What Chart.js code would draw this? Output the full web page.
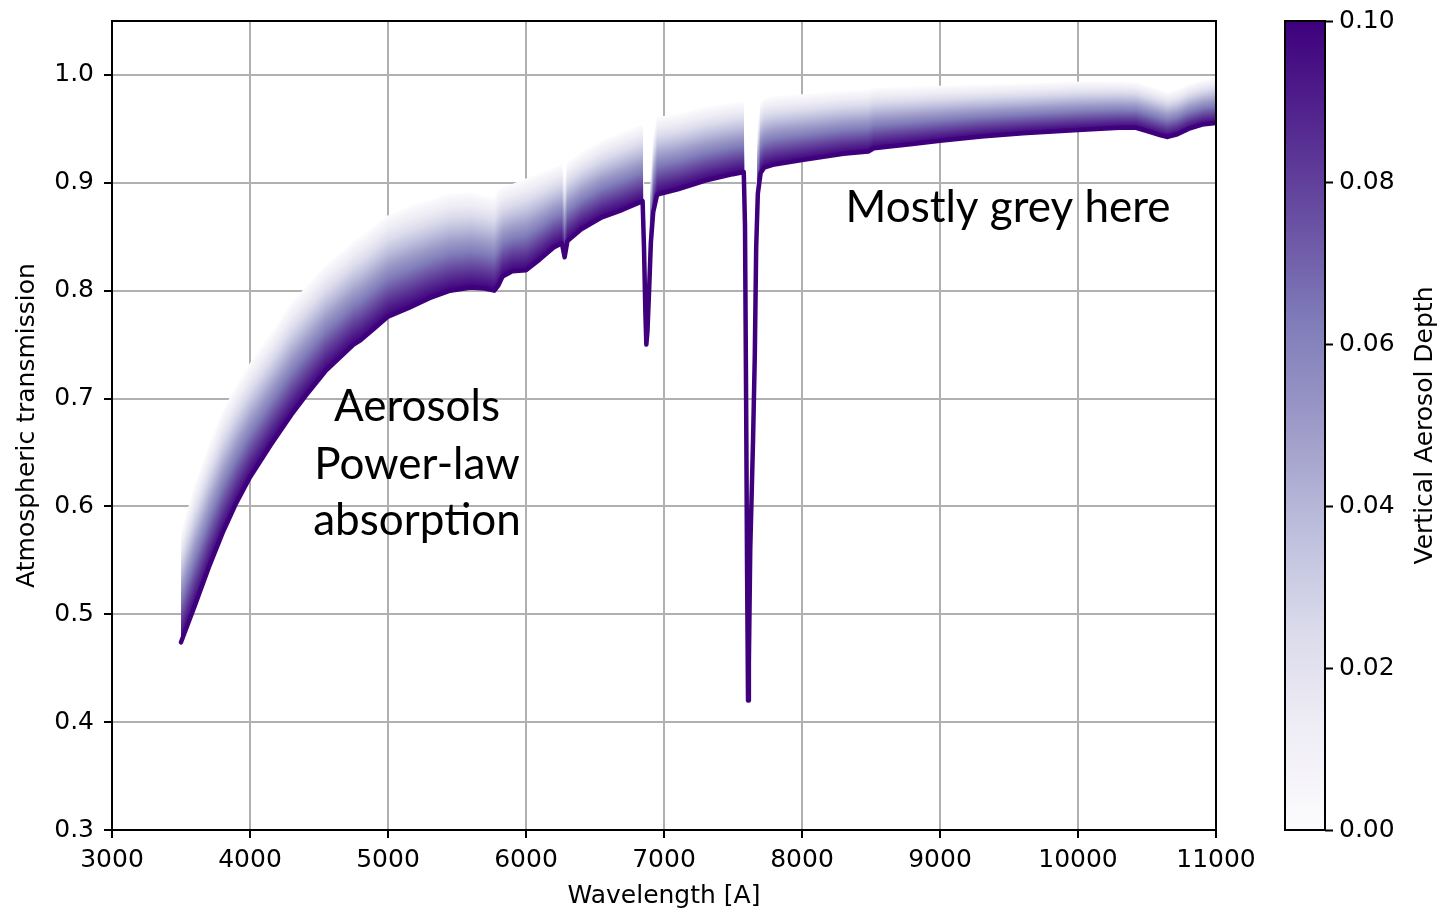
<!DOCTYPE html>
<html>
<head>
<meta charset="utf-8">
<script src="https://cdn.jsdelivr.net/npm/chart.js@4/dist/chart.umd.min.js"></script>
<style>
  body { margin: 0; background: #fff; }
  #main { position: absolute; left: 0; top: 0; }
  #cbar { position: absolute; left: 1240px; top: 0; }
</style>
</head>
<body>
<canvas id="main" width="1280" height="911"></canvas>
<canvas id="cbar" width="205" height="911"></canvas>
<script>
// wavelength grid [A]
var wavelength = [3500,3550,3600,3700,3800,3900,4000,4150,4300,4400,4550,4700,4750,4800,4900,5000,
  5150,5300,5450,5600,5700,5770,5800,5830,5900,6000,6100,6200,6260,6280,6300,6400,6550,6700,
  6845,6855,6865,6872,6880,6892,6905,6922,6950,7100,7300,7500,7578,7587,7595,7602,7609,7615,
  7625,7645,7658,7668,7680,7700,7725,7800,8000,8300,8480,8520,8800,9000,9300,9600,10000,10300,
  10420,10500,10600,10650,10720,10800,10900,11000]

// transmission for vertical aerosol depth 0.00 (upper edge of the family)
var transClear = [0.575,0.598,0.620,0.656,0.688,0.712,0.733,0.760,0.789,0.803,0.824,0.840,0.846,0.850,0.860,0.870,
  0.878,0.884,0.890,0.891,0.888,0.886,0.893,0.896,0.899,0.904,0.909,0.914,0.917,0.903,0.919,0.928,0.939,0.947,
  0.954,0.908,0.843,0.810,0.823,0.864,0.913,0.943,0.961,0.964,0.970,0.974,0.975,0.921,0.750,0.579,0.450,0.488,
  0.600,0.707,0.793,0.900,0.954,0.974,0.978,0.980,0.982,0.985,0.986,0.988,0.989,0.990,0.991,0.992,0.994,0.994,
  0.993,0.990,0.986,0.984,0.986,0.991,0.995,0.998]

// transmission for vertical aerosol depth 0.10 (lower edge of the family)
var transDusty = [0.474,0.491,0.508,0.543,0.575,0.603,0.627,0.657,0.685,0.702,0.726,0.744,0.750,0.754,0.765,0.776,
  0.784,0.793,0.800,0.803,0.802,0.800,0.805,0.813,0.818,0.819,0.829,0.840,0.844,0.831,0.846,0.857,0.868,0.875,
  0.883,0.840,0.780,0.750,0.762,0.800,0.845,0.873,0.889,0.894,0.902,0.908,0.910,0.860,0.700,0.540,0.420,0.455,
  0.560,0.660,0.740,0.840,0.890,0.909,0.914,0.917,0.921,0.927,0.929,0.932,0.936,0.939,0.943,0.946,0.949,0.951,
  0.951,0.948,0.944,0.9425,0.945,0.950,0.954,0.9555]

var aodRange = [0, 0.10]
var cbTicks = [0, 0.02, 0.04, 0.06, 0.08, 0.10]

// matplotlib "Purples"
var purples = ['#fcfbfd','#efedf5','#dadaeb','#bcbddc','#9e9ac8','#807dba','#6a51a3','#54278f','#3f007d']

Chart.defaults.font.family = 'DejaVu Sans'
Chart.defaults.font.size = 25
Chart.defaults.color = '#000'

var bandPattern = null

// shades the band between the two curves column by column, light (aod 0) to dark (aod 0.1)
var bandShade = {
  id: 'bandShade',
  afterDatasetsUpdate: function(chart){
    var top = chart.getDatasetMeta(0).data
    var bot = chart.getDatasetMeta(1).data
    var off = document.createElement('canvas')
    off.width = chart.width
    off.height = chart.height
    var g = off.getContext('2d')
    for (var i = 0; i < top.length - 1; i++) {
      var x0 = top[i].x, x1 = top[i+1].x
      for (var px = Math.floor(x0); px <= Math.ceil(x1); px++) {
        var t = x1 > x0 ? Math.min(1, Math.max(0, (px + 0.5 - x0) / (x1 - x0))) : 0
        var yt = top[i].y + (top[i+1].y - top[i].y) * t
        var yb = bot[i].y + (bot[i+1].y - bot[i].y) * t
        if (yb - yt < 0.5) yb = yt + 0.5
        var grad = g.createLinearGradient(0, yt, 0, yb)
        purples.forEach(function(c, k){ grad.addColorStop(k / (purples.length - 1), c) })
        g.fillStyle = grad
        g.fillRect(px, 0, 1, off.height)
      }
    }
    bandPattern = chart.ctx.createPattern(off, 'no-repeat')
    chart.getDatasetMeta(1).dataset.options.backgroundColor = bandPattern
  }
}

var frame = {
  id: 'frame',
  afterDraw: function(chart){
    var a = chart.chartArea, ctx = chart.ctx
    ctx.save()
    ctx.strokeStyle = '#000'
    ctx.lineWidth = 2
    ctx.strokeRect(a.left, a.top, a.right - a.left, a.bottom - a.top)
    ctx.restore()
  }
}

var notes = {
  id: 'notes',
  afterDatasetsDraw: function(chart){
    var ctx = chart.ctx, xs = chart.scales.x, ys = chart.scales.y
    var items = [
      ['Mostly grey here', 9493, 0.8637],
      ['Aerosols', 5210, 0.679],
      ['Power-law', 5210, 0.6254],
      ['absorption', 5210, 0.5735]
    ]
    ctx.save()
    ctx.font = '44px Lato'
    ctx.fillStyle = '#000'
    ctx.textAlign = 'center'
    ctx.textBaseline = 'alphabetic'
    items.forEach(function(it){
      ctx.fillText(it[0], xs.getPixelForValue(it[1]), ys.getPixelForValue(it[2]))
    })
    ctx.restore()
  }
}

var clearPts = wavelength.map(function(w, i){ return {x: w, y: transClear[i]} })
var dustyPts = wavelength.map(function(w, i){ return {x: w, y: transDusty[i]} })

var gridOpts = {color: '#b0b0b0', lineWidth: 2, tickColor: '#000', tickLength: 8, tickWidth: 2}

var chart = new Chart(document.getElementById('main'), {
  type: 'line',
  data: {
    datasets: [
      {label: 'aod 0.00', data: clearPts, borderWidth: 0, pointRadius: 0, fill: false, order: 2, clip: 0},
      {label: 'aod 0.10', data: dustyPts, borderColor: '#3f007d', borderWidth: 4.5, pointRadius: 0,
       borderJoinStyle: 'round', borderCapStyle: 'round', fill: 0, order: 1, clip: 0,
       backgroundColor: function(){ return bandPattern || 'rgba(0,0,0,0)' }}
    ]
  },
  options: {
    responsive: false,
    animation: false,
    layout: {padding: {left: 0, right: 64, top: 21, bottom: 0}},
    plugins: {legend: {display: false}, tooltip: {enabled: false}},
    scales: {
      x: {
        type: 'linear', min: 3000, max: 11000,
        ticks: {stepSize: 1000, autoSkip: false, maxRotation: 0, padding: 7,
                callback: function(v){ return String(v) }},
        grid: gridOpts,
        border: {display: false},
        title: {display: true, text: 'Wavelength [A]', padding: {top: 0, bottom: 0}},
        afterFit: function(s){ s.height = 81 }
      },
      y: {
        min: 0.3, max: 1.05,
        ticks: {stepSize: 0.1, includeBounds: false, padding: 10,
                callback: function(v){ return v.toFixed(1) }},
        grid: gridOpts,
        border: {display: false},
        title: {display: true, text: 'Atmospheric transmission', padding: {top: 12, bottom: 0}},
        afterFit: function(s){ s.width = 112; s.paddingTop = 0; s.paddingBottom = 0 }
      }
    }
  },
  plugins: [bandShade, notes, frame]
})

// colorbar
var cbTitle = {
  id: 'cbTitle',
  afterDraw: function(c){
    var a = c.chartArea, ctx = c.ctx
    ctx.save()
    ctx.strokeStyle = '#000'
    ctx.lineWidth = 2
    ctx.strokeRect(a.left, a.top, a.right - a.left, a.bottom - a.top)
    ctx.translate(185, (a.top + a.bottom) / 2)
    ctx.rotate(-Math.PI / 2)
    ctx.font = '25px DejaVu Sans'
    ctx.fillStyle = '#000'
    ctx.textAlign = 'center'
    ctx.textBaseline = 'middle'
    ctx.fillText('Vertical Aerosol Depth', 0, 0)
    ctx.restore()
  }
}

var cbar = new Chart(document.getElementById('cbar'), {
  type: 'bar',
  data: {
    labels: ['aod'],
    datasets: [{
      data: [aodRange],
      barPercentage: 1, categoryPercentage: 1, borderWidth: 0,
      backgroundColor: function(ctx){
        var a = ctx.chart.chartArea
        if (!a) return '#9e9ac8'
        var grad = ctx.chart.ctx.createLinearGradient(0, a.bottom, 0, a.top)
        purples.forEach(function(c, k){ grad.addColorStop(k / (purples.length - 1), c) })
        return grad
      }
    }]
  },
  options: {
    responsive: false,
    animation: false,
    layout: {padding: {left: 45, right: 0, top: 21, bottom: 81}},
    plugins: {legend: {display: false}, tooltip: {enabled: false}},
    scales: {
      x: {display: false},
      y: {
        position: 'right', min: aodRange[0], max: aodRange[1],
        afterBuildTicks: function(s){ s.ticks = cbTicks.map(function(v){ return {value: v} }) },
        ticks: {padding: 6, callback: function(v){ return v.toFixed(2) }},
        grid: {drawOnChartArea: false, tickColor: '#000', tickLength: 8, tickWidth: 2},
        border: {display: false},
        afterFit: function(s){ s.width = 120; s.paddingTop = 0; s.paddingBottom = 0 }
      }
    }
  },
  plugins: [cbTitle]
})
</script>
</body>
</html>
